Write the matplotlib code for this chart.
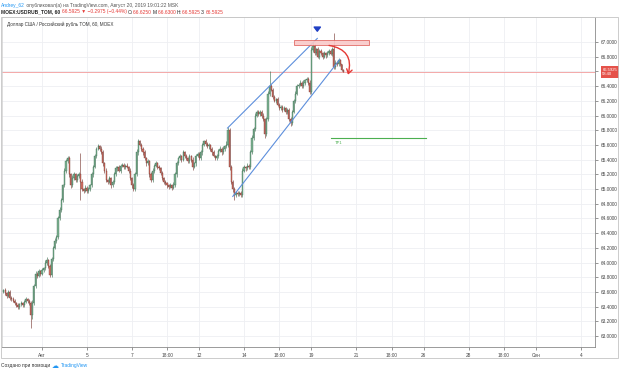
import numpy as np
import matplotlib.pyplot as plt
import matplotlib.transforms as mtransforms
from matplotlib.patches import Rectangle, FancyArrowPatch

plt.rcParams['font.family'] = ['Liberation Sans', 'DejaVu Sans']

# hourly bars of USDRUB_TOM, bar index counted from Jul 30 10:00 (14 bars a day)
first_bar = 4
first_open = 63.60
closes = [
    63.62, 63.58, 63.55, 63.60, 63.52, 63.50, 63.48, 63.45, 63.42, 63.40,
    63.43, 63.45, 63.42, 63.47, 63.50, 63.48, 63.45, 63.28, 63.45, 63.68,
    63.85, 63.82, 63.88, 63.85, 63.90, 63.92, 64.00, 64.03, 63.95, 63.83,
    64.05, 64.20, 64.30, 64.35, 64.60, 64.72, 64.85, 65.05, 65.25, 65.38,
    65.42, 65.20, 65.05, 65.15, 65.20, 65.12, 65.18, 65.20, 65.10, 65.00,
    64.98, 65.02, 64.97, 65.00, 65.05, 65.20, 65.30, 65.45, 65.55, 65.58,
    65.55, 65.50, 65.35, 65.25, 65.12, 65.10, 65.15, 65.05, 65.10, 65.20,
    65.28, 65.30, 65.25, 65.32, 65.33, 65.30, 65.32, 65.30, 65.25, 65.15,
    65.05, 65.00, 65.20, 65.50, 65.65, 65.60, 65.55, 65.50, 65.42, 65.35,
    65.38, 65.20, 65.12, 65.25, 65.32, 65.35, 65.30, 65.28, 65.22, 65.15,
    65.10, 65.08, 65.05, 65.03, 65.05, 65.02, 65.06, 65.20, 65.35, 65.42,
    65.45, 65.40, 65.50, 65.45, 65.42, 65.38, 65.45, 65.40, 65.30, 65.35,
    65.45, 65.48, 65.42, 65.50, 65.60, 65.65, 65.62, 65.58, 65.60, 65.55,
    65.50, 65.45, 65.42, 65.45, 65.52, 65.55, 65.50, 65.55, 65.58, 65.60,
    65.80, 65.30, 65.10, 65.00, 64.92, 64.95, 64.93, 64.95, 64.92, 65.25,
    65.30, 65.28, 65.32, 65.30, 65.50, 65.70, 65.82, 66.00, 66.05, 66.02,
    66.05, 66.00, 65.95, 65.75, 65.95, 66.30, 66.40, 66.35, 66.25, 66.20,
    66.22, 66.15, 66.10, 66.12, 66.08, 66.10, 66.05, 66.08, 65.95, 65.90,
    66.05, 66.20, 66.30, 66.40, 66.42, 66.45, 66.40, 66.45, 66.48, 66.50,
    66.45, 66.32, 66.89, 66.95, 66.85, 66.90, 66.80, 66.88, 66.85, 66.80,
    66.85, 66.82, 66.85, 66.88, 66.84, 66.90, 66.66, 66.72, 66.70, 66.75,
    66.70, 66.625, 66.5925,
]
# wicks beyond the body, in hundredths of a rouble
wick_up = [
    2, 3, 2, 3, 2, 2, 3, 2, 2, 3,
    2, 3, 2, 2, 3, 2, 2, 3, 4, 3,
    3, 2, 3, 2, 3, 2, 3, 4, 2, 3,
    3, 2, 3, 2, 4, 3, 3, 2, 3, 3,
    3, 3, 2, 4, 3, 2, 3, 3, 29, 4,
    2, 3, 2, 3, 2, 3, 3, 3, 2, 3,
    2, 3, 3, 2, 3, 2, 3, 2, 3, 3,
    3, 2, 3, 2, 3, 2, 2, 3, 2, 3,
    2, 3, 3, 4, 3, 2, 3, 2, 3, 2,
    3, 2, 3, 3, 2, 3, 2, 3, 2, 3,
    2, 3, 2, 2, 3, 2, 3, 3, 3, 2,
    3, 2, 3, 2, 3, 2, 3, 2, 3, 2,
    3, 2, 3, 3, 3, 2, 3, 2, 3, 2,
    2, 3, 2, 3, 2, 3, 2, 3, 2, 5,
    4, 3, 3, 2, 3, 2, 3, 2, 2, 3,
    3, 2, 3, 2, 3, 3, 3, 4, 3, 2,
    3, 2, 3, 2, 3, 4, 20, 3, 2, 3,
    2, 3, 2, 3, 2, 3, 2, 3, 2, 3,
    3, 3, 4, 3, 2, 3, 2, 3, 2, 3,
    2, 3, 4, 5, 3, 2, 3, 2, 3, 2,
    3, 2, 3, 2, 3, 3, 22, 3, 2, 3,
    2, 0, 0.5,
]
wick_dn = [
    2, 2, 3, 2, 3, 2, 2, 3, 2, 3,
    3, 2, 3, 2, 2, 3, 3, 17, 5, 3,
    2, 3, 2, 3, 2, 3, 2, 3, 3, 3,
    3, 3, 2, 3, 3, 2, 3, 3, 2, 3,
    2, 3, 3, 2, 3, 3, 2, 3, 25, 3,
    3, 2, 3, 2, 3, 2, 3, 2, 3, 2,
    3, 2, 3, 3, 2, 3, 2, 3, 2, 3,
    2, 3, 2, 3, 2, 3, 3, 2, 3, 3,
    3, 3, 3, 2, 3, 2, 3, 3, 2, 3,
    2, 3, 3, 2, 3, 2, 3, 2, 3, 3,
    3, 2, 3, 3, 2, 3, 2, 3, 3, 2,
    2, 3, 2, 3, 2, 3, 2, 3, 4, 2,
    3, 2, 3, 2, 3, 2, 3, 2, 3, 3,
    3, 2, 3, 2, 3, 2, 3, 2, 3, 2,
    3, 4, 3, 4, 7, 3, 3, 2, 3, 3,
    2, 3, 2, 3, 3, 2, 3, 3, 2, 3,
    2, 3, 3, 5, 3, 3, 3, 2, 3, 2,
    3, 2, 3, 2, 3, 2, 3, 3, 3, 4,
    3, 2, 3, 2, 3, 2, 3, 2, 3, 2,
    3, 2, 3, 3, 2, 3, 2, 3, 2, 3,
    2, 3, 2, 3, 2, 3, 3, 2, 3, 2,
    3, 2, 0,
]
last_price = 66.5925
price_ticks = [63.0, 63.2, 63.4, 63.6, 63.8, 64.0, 64.2, 64.4, 64.6, 64.8, 65.0,
               65.2, 65.4, 65.6, 65.8, 66.0, 66.2, 66.4, 66.6, 66.8, 67.0]
time_pos = [28, 56, 84, 106, 126, 154, 176, 196, 224, 246, 266, 294, 316, 336, 364]
time_lab = ['Авг', '5', '7', '18:00', '12', '14', '18:00', '19', '21', '18:00',
            '26', '28', '18:00', 'Сен', '4']

# drawings on the chart (bar index, price)
chan_up_x, chan_up_y = [143.7, 199.7], [65.83, 67.05]
chan_lo_x, chan_lo_y = [147.0, 213.6], [64.90, 66.76]
zone_x, zone_y = [185.3, 232.0], [66.96, 67.035]
tp1_x, tp1_y = [208.5, 267.6], 65.69
curve_from, curve_to = (205.3, 66.96), (218.4, 66.52)
mark_x, mark_y = 199.7, 67.11

fig = plt.figure(figsize=(6.2, 3.72), dpi=100)
ax = fig.add_axes([0.003, 0.067, 0.957, 0.887])

closes = np.array(closes)
opens = np.r_[first_open, closes[:-1]]
x = np.arange(first_bar, first_bar + len(closes))
highs = np.maximum(opens, closes) + np.array(wick_up) / 100
lows = np.minimum(opens, closes) - np.array(wick_dn) / 100
up = closes >= opens

body_col = np.where(up, '#7fb394', '#d9776b')
edge_col = np.where(up, '#2f6546', '#6e2a22')
ax.vlines(x, lows, highs, colors=edge_col, lw=0.4, zorder=3)
ax.bar(x, np.maximum(np.abs(closes - opens), 0.004), bottom=np.minimum(opens, closes),
       width=0.7, color=body_col, edgecolor=edge_col, linewidth=0.25, zorder=4)

ax.set_xlim(3.0, 373)
ax.set_ylim(62.85, 67.34)

ax.yaxis.tick_right()
ax.set_yticks(price_ticks)
ax.set_yticklabels(['' if abs(t - 66.6) < 1e-6 else '%.4f' % t for t in price_ticks])
ax.set_xticks(time_pos)
ax.set_xticklabels(time_lab)
ax.tick_params(axis='both', labelsize=3.4, colors='#444444', length=2, width=0.4, pad=2)
ax.grid(True, color='#eeeff2', lw=0.6, zorder=0)
for side in ['top', 'left']:
    ax.spines[side].set_color('#cfcfcf')
    ax.spines[side].set_linewidth(0.5)
for side in ['right', 'bottom']:
    ax.spines[side].set_color('#8a8a8a')
    ax.spines[side].set_linewidth(0.6)

# last price line and label
ax.axhline(last_price, color='#f29b9b', lw=0.6, zorder=2)
trans = mtransforms.blended_transform_factory(ax.transAxes, ax.transData)
ax.text(1.012, last_price, '66.5925\n58:40', transform=trans, fontsize=3.0, color='white',
        ha='left', va='center', linespacing=1.1, clip_on=False, zorder=10,
        bbox=dict(boxstyle='square,pad=0.35', fc='#e5524a', ec='none'))

# channel
ax.plot(chan_up_x, chan_up_y, color='#5d8fdc', lw=0.8, zorder=5)
ax.plot(chan_lo_x, chan_lo_y, color='#5d8fdc', lw=0.8, zorder=5)

# resistance zone
ax.add_patch(Rectangle((zone_x[0], zone_y[0]), zone_x[1] - zone_x[0], zone_y[1] - zone_y[0],
                       fc='#f9c9c9', ec='#e0605a', lw=0.6, alpha=0.9, zorder=6))

# curved arrow down
ax.add_patch(FancyArrowPatch(curve_from, curve_to, connectionstyle='arc3,rad=-0.6',
                             arrowstyle='->,head_length=3,head_width=2', color='#e53935',
                             lw=1.0, zorder=7))

# blue arrow mark
ax.annotate('', xy=(mark_x, mark_y), xytext=(mark_x, mark_y + 0.11),
            arrowprops=dict(arrowstyle='simple,head_width=0.9,head_length=0.6,tail_width=0.4',
                            color='#1f3fc4', mutation_scale=5), zorder=8)

# take profit line
ax.plot(tp1_x, [tp1_y, tp1_y], color='#4caf50', lw=0.8, zorder=5)
ax.text(tp1_x[0] + 2, tp1_y - 0.04, 'TP1', fontsize=3.0, color='#4caf50', va='top', ha='left')

ax.text(0.008, 0.985, 'Доллар США / Российский рубль TOM, 60, MOEX', transform=ax.transAxes,
        fontsize=3.3, color='#333333', va='top', ha='left')

# outer frame incl. time axis
fig.add_artist(Rectangle((0.002, 1 - 358 / 372), 0.994, 0.954 - (1 - 358 / 372),
                         transform=fig.transFigure, fill=False, ec='#c4c4c4', lw=0.6))

# header lines
t = fig.text(0.002, 1 - 5 / 372, 'Andrey_62', fontsize=3.5, color='#2196f3', va='center', ha='left')
ax.annotate(' опубликовал(а) на TradingView.com, Август 20, 2019 19:01:22 MSK', xy=(1, 0.5),
            xycoords=t, va='center', ha='left', fontsize=3.5, color='#555555')

parts = [('MOEX:USDRUB_TOM, 60 ', '#222222', 'bold'), ('66.5925 ▼ −0.2975 (−0.44%) ', '#e53935', 'normal'),
         ('О:', '#222222', 'normal'), ('66.6250 ', '#e53935', 'normal'),
         ('М:', '#222222', 'normal'), ('66.6300 ', '#e53935', 'normal'),
         ('Н:', '#222222', 'normal'), ('66.5925 ', '#e53935', 'normal'),
         ('З:', '#222222', 'normal'), ('66.5925', '#e53935', 'normal')]
prev = fig.text(0.002, 1 - 12 / 372, parts[0][0], fontsize=3.5, color=parts[0][1],
                fontweight=parts[0][2], va='center', ha='left')
for txt, col, wt in parts[1:]:
    prev = ax.annotate(txt, xy=(1, 0.5), xycoords=prev, va='center', ha='left',
                       fontsize=3.5, color=col, fontweight=wt)

# footer
f = fig.text(0.002, 1 - 366 / 372, 'Создано при помощи ', fontsize=3.5, color='#333333',
             va='center', ha='left')
f2 = ax.annotate('☁ ', xy=(1, 0.5), xycoords=f, va='center', ha='left', fontsize=5,
                 color='#2196f3')
ax.annotate('TradingView', xy=(1, 0.5), xycoords=f2, va='center', ha='left', fontsize=3.5,
            color='#2196f3')

fig.savefig('out.png', dpi=100)
